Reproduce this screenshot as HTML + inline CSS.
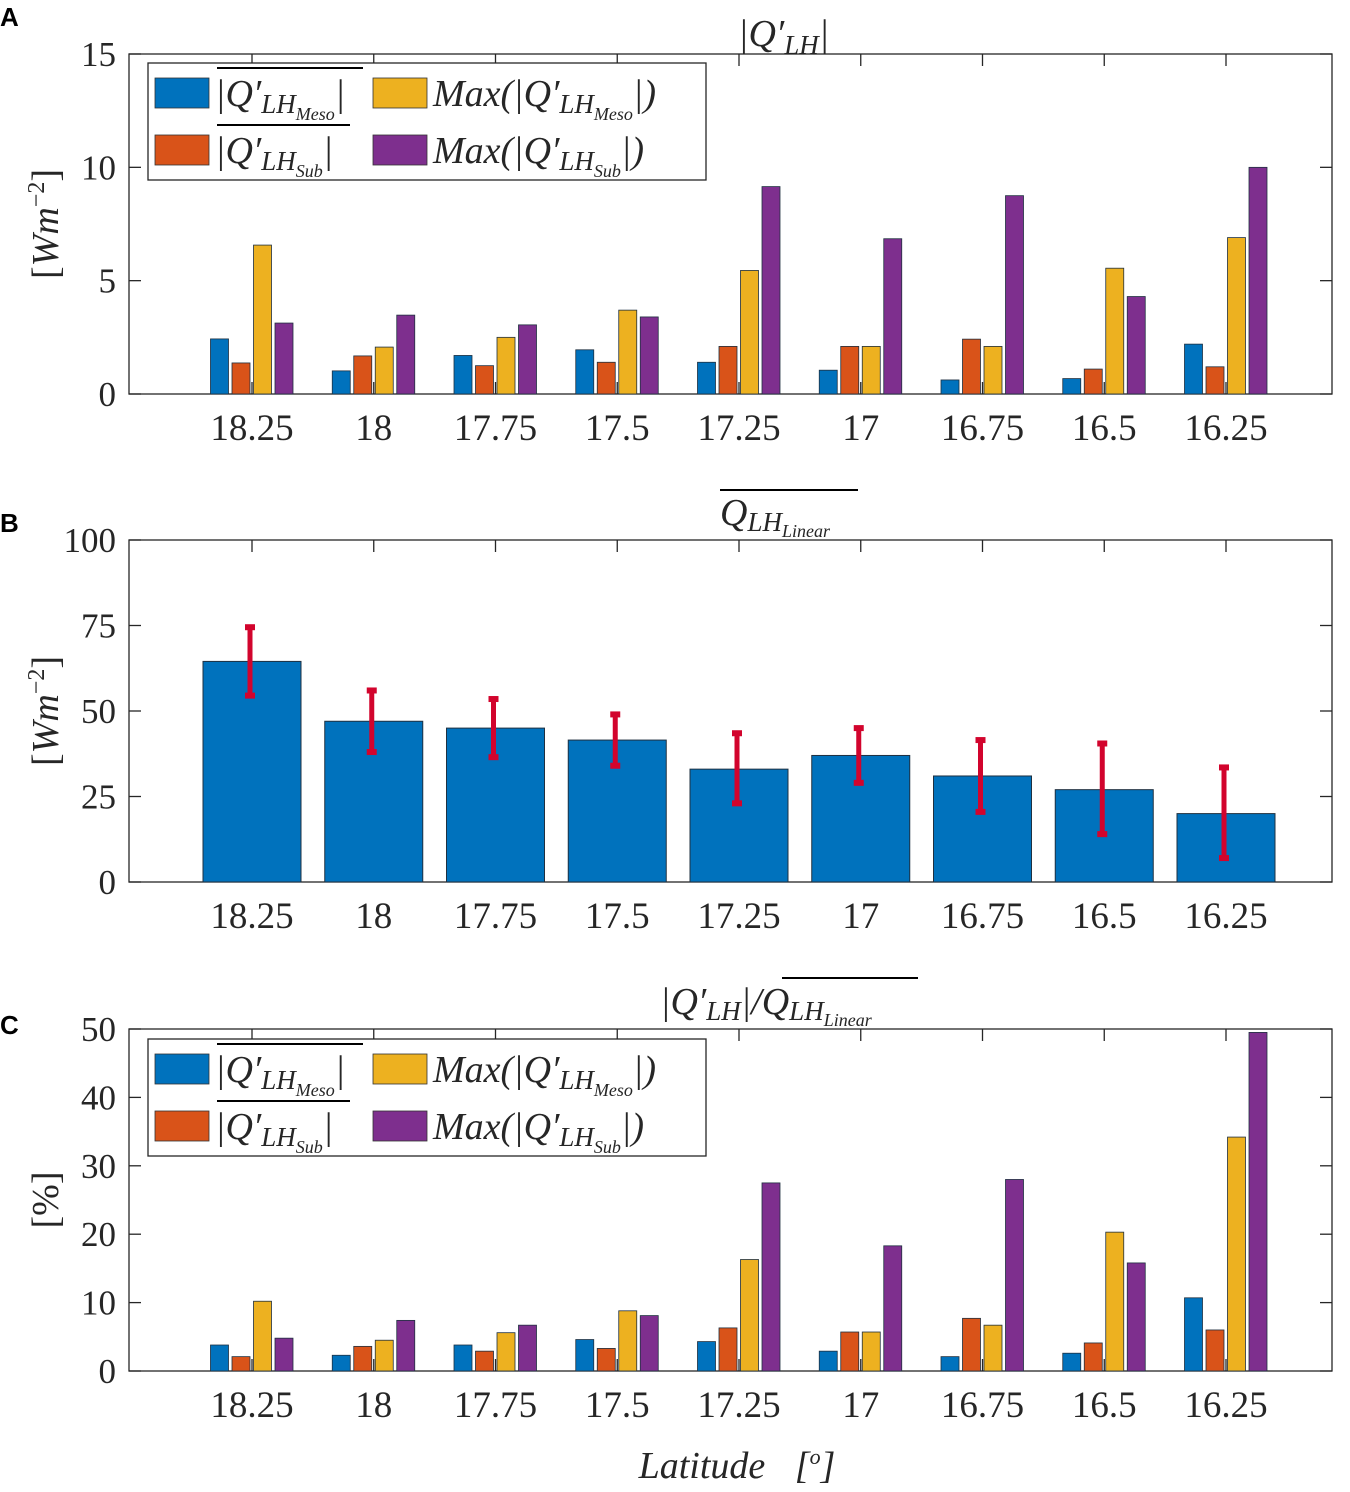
<!DOCTYPE html>
<html><head><meta charset="utf-8">
<style>
html,body{margin:0;padding:0;background:#fff;}
svg{display:block;}
text{font-family:"Liberation Serif",serif;fill:#262626;}
.it{font-style:italic;}
.lbl{font-family:"Liberation Sans",sans-serif;font-weight:bold;font-size:26px;fill:#000;}
</style></head>
<body>
<svg id="chart" width="1350" height="1492" viewBox="0 0 1350 1492" xmlns="http://www.w3.org/2000/svg">
<text class="lbl" x="0" y="26">A</text>
<text class="lbl" x="0" y="532">B</text>
<text class="lbl" x="0" y="1034">C</text>

<g>
<text class="it" x="738" y="46" font-size="38">|Q′<tspan font-size="27" dy="8">LH</tspan><tspan dy="-8" font-size="38">|</tspan></text>
</g>
<g>
<line x1="720" y1="490" x2="858" y2="490" stroke="#000" stroke-width="2"/>
<text class="it" x="720" y="525" font-size="38">Q<tspan font-size="27" dy="6">LH</tspan><tspan font-size="18" dy="6">Linear</tspan></text>
</g>
<g>
<line x1="782" y1="978" x2="918" y2="978" stroke="#000" stroke-width="2"/>
<text class="it" x="660" y="1014" font-size="38">|Q′<tspan font-size="27" dy="6">LH</tspan><tspan dy="-6" font-size="38">|/Q</tspan><tspan font-size="27" dy="6">LH</tspan><tspan font-size="18" dy="6">Linear</tspan></text>
</g>

<text class="it" x="737" y="1478" font-size="38" text-anchor="middle">Latitude <tspan dx="20">[</tspan><tspan font-size="22" dy="-14">o</tspan><tspan dy="14">]</tspan></text>

<g id="pA"></g><g id="pB"></g><g id="pC"></g>
</svg>
<script>
const categories = ["18.25","18","17.75","17.5","17.25","17","16.75","16.5","16.25"];
const aMeso = [2.43,1.02,1.7,1.95,1.4,1.05,0.62,0.68,2.2];
const aSub = [1.37,1.68,1.25,1.4,2.1,2.1,2.42,1.1,1.2];
const aMaxMeso = [6.57,2.07,2.5,3.7,5.45,2.1,2.1,5.55,6.9];
const aMaxSub = [3.13,3.48,3.05,3.4,9.15,6.85,8.75,4.3,10.0];
const aTicks = [0,5,10,15];
const bMean = [64.5,47,45,41.5,33,37,31,27,20];
const bUpper = [74.5,56,53.5,49,43.5,45,41.5,40.5,33.5];
const bLower = [54.5,38,36.5,34,23,29,20.5,14,7];
const bTicks = [0,25,50,75,100];
const cMeso = [3.8,2.3,3.8,4.6,4.3,2.9,2.1,2.6,10.7];
const cSub = [2.1,3.6,2.9,3.3,6.3,5.7,7.7,4.1,6.0];
const cMaxMeso = [10.2,4.5,5.6,8.8,16.3,5.7,6.7,20.3,34.2];
const cMaxSub = [4.8,7.4,6.7,8.1,27.5,18.3,28.0,15.8,49.5];
const cTicks = [0,10,20,30,40,50];

const NS="http://www.w3.org/2000/svg";
const COLORS=["#0072BD","#D95319","#EDB120","#7E2F8E"];
function mk(parent,tag,attrs){const e=document.createElementNS(NS,tag);for(const k in attrs)e.setAttribute(k,attrs[k]);parent.appendChild(e);return e;}
const L=129,R=1332;
function xPos(i){return 252+i*121.75;}

function axes(g,top,bot,ymax,ticks,ylab,pfx){
  const y=v=>bot-(v/ymax)*(bot-top);
  const box=mk(g,'rect',{x:L,y:top,width:R-L,height:bot-top,fill:'none',stroke:'#262626','stroke-width':1.3});
  
  
  ticks.forEach(t=>{
    mk(g,'line',{x1:L,x2:L+12,y1:y(t),y2:y(t),stroke:'#262626','stroke-width':1.3});
    mk(g,'line',{x1:R,x2:R-12,y1:y(t),y2:y(t),stroke:'#262626','stroke-width':1.3});
    const tx=mk(g,'text',{x:116,y:y(t)+12,'font-size':35,'text-anchor':'end'});
    tx.textContent=t;
    
    
  });
  categories.forEach((c,i)=>{
    mk(g,'line',{x1:xPos(i),x2:xPos(i),y1:bot,y2:bot-12,stroke:'#262626','stroke-width':1.3});
    mk(g,'line',{x1:xPos(i),x2:xPos(i),y1:top,y2:top+12,stroke:'#262626','stroke-width':1.3});
    const tx=mk(g,'text',{x:xPos(i),y:bot+46,'font-size':37,'text-anchor':'middle'});
    tx.textContent=c;
    
    
  });
  const yl=mk(g,'text',{x:0,y:0,'font-size':38,'text-anchor':'middle',transform:`translate(58,${(top+bot)/2}) rotate(-90)`});
  yl.innerHTML=ylab;
  
  
  return y;
}

function grouped(g,top,bot,ymax,ticks,series,pfx){
  const y=axes(g,top,bot,ymax,ticks,pfx==='c'?'[%]':'<tspan>[</tspan><tspan class="it">Wm</tspan><tspan font-size="24" dy="-14">−2</tspan><tspan dy="14">]</tspan>',pfx);
  const offs=[-32.5,-11,10.5,32];
  const names=['mean-meso','mean-sub','max-meso','max-sub'];
  series.forEach((s,k)=>{
    s.forEach((v,i)=>{
      const yy=y(v);
      const r=mk(g,'rect',{x:xPos(i)+offs[k]-9,y:yy,width:18,height:bot-yy,fill:COLORS[k],stroke:'#1f3040','stroke-width':0.8});
      
      
    });
  });
}

function legend(g,top,pfx){
  const lg=mk(g,'g',{});
  
  
  mk(lg,'rect',{x:148,y:top,width:558,height:117,fill:'#fff',stroke:'#262626','stroke-width':1.3});
  const rows=[[0,155,top+15,'meso'],[2,373,top+15,'maxmeso'],[1,155,top+72,'sub'],[3,373,top+72,'maxsub']];
  rows.forEach(([k,x,y,n])=>{
    const sw=mk(lg,'rect',{x:x,y:y,width:54,height:30,fill:COLORS[k],stroke:'#333','stroke-width':0.8});
    
    
    const tx=mk(lg,'text',{x:x+60,y:y+28,'font-size':38,class:'it'});
    const sub=(n.indexOf('meso')>=0)?'Meso':'Sub';
    if(k<2){
      tx.innerHTML=`|Q′<tspan font-size="27" dy="7">LH</tspan><tspan font-size="18" dy="7">${sub}</tspan><tspan font-size="38" dy="-14">|</tspan>`;
      mk(lg,'line',{x1:x+62,x2:x+(k===0?208:195),y1:y-10,y2:y-10,stroke:'#000','stroke-width':2});
    } else {
      tx.innerHTML=`Max(|Q′<tspan font-size="27" dy="7">LH</tspan><tspan font-size="18" dy="7">${sub}</tspan><tspan font-size="38" dy="-14">|)</tspan>`;
    }
    
    
  });
}

const gA=document.getElementById('pA');


grouped(gA,54,394,15,aTicks,[aMeso,aSub,aMaxMeso,aMaxSub],'a');
legend(gA,63,'a');

const gB=document.getElementById('pB');


const yB=axes(gB,540,882,100,bTicks,'<tspan>[</tspan><tspan class="it">Wm</tspan><tspan font-size="24" dy="-14">−2</tspan><tspan dy="14">]</tspan>','b');
bMean.forEach((v,i)=>{
  const r=mk(gB,'rect',{x:xPos(i)-49,y:yB(v),width:98,height:882-yB(v),fill:'#0072BD',stroke:'#1f3040','stroke-width':1});
  
  
});
bMean.forEach((v,i)=>{
  const eg=mk(gB,'g',{});
  
  
  const x=xPos(i)-2;
  mk(eg,'line',{x1:x,x2:x,y1:yB(bUpper[i]),y2:yB(bLower[i]),stroke:'#D2042D','stroke-width':5});
  mk(eg,'rect',{x:x-5,y:yB(bUpper[i])-3,width:10,height:6,fill:'#D2042D'});
  mk(eg,'rect',{x:x-5,y:yB(bLower[i])-3,width:10,height:6,fill:'#D2042D'});
});

const gC=document.getElementById('pC');


grouped(gC,1029,1371,50,cTicks,[cMeso,cSub,cMaxMeso,cMaxSub],'c');
legend(gC,1039,'c');
</script>
</body></html>
